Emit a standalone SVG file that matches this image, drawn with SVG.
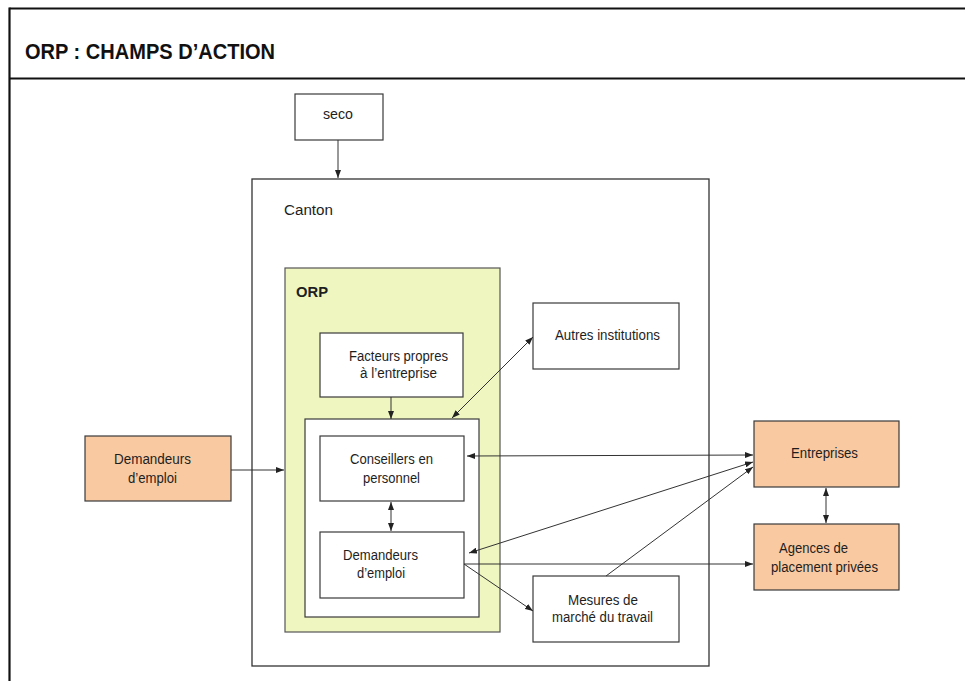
<svg xmlns="http://www.w3.org/2000/svg" width="965" height="681" viewBox="0 0 965 681">
<style>
  .frame { stroke: #111; stroke-width: 2.2; fill: none; }
  .box { fill: #ffffff; stroke: #3a3a3a; stroke-width: 1.2; }
  .orange { fill: #f9c9a1; stroke: #3a3a3a; stroke-width: 1.2; }
  .orp { fill: #eff6c0; stroke: #555; stroke-width: 1.2; }
  .canton { fill: #ffffff; stroke: #333; stroke-width: 1.3; }
  text { font-family: "Liberation Sans", Arial, sans-serif; font-size: 14px; fill: #1e1e1e; }
  .title { font-size: 22px; font-weight: bold; fill: #111; }
  .bold { font-weight: bold; }
  .conn path { stroke: #333; stroke-width: 1; fill: none; }
</style>
<defs>
  <marker id="ah" markerUnits="userSpaceOnUse" markerWidth="8" markerHeight="6" refX="8" refY="3" orient="auto-start-reverse">
    <path d="M0,0 L8,3 L0,6 z" fill="#222"/>
  </marker>
</defs>
<rect width="965" height="681" fill="#ffffff"/>

<g id="frame">
  <line class="frame" x1="9.5" y1="8.5" x2="965" y2="8.5"/>
  <line class="frame" x1="9.5" y1="7.5" x2="9.5" y2="681"/>
  <line class="frame" x1="9.5" y1="78.5" x2="965" y2="78.5"/>
  <text class="title" x="25" y="59" textLength="250" lengthAdjust="spacingAndGlyphs">ORP : CHAMPS D’ACTION</text>
</g>

<g id="canton">
  <rect class="canton" x="252" y="179" width="457" height="487"/>
  <text x="284" y="215" textLength="49" lengthAdjust="spacingAndGlyphs">Canton</text>
</g>

<g id="orp">
  <rect class="orp" x="285" y="268" width="215" height="364"/>
  <text class="bold" x="296" y="297" textLength="32" lengthAdjust="spacingAndGlyphs">ORP</text>
</g>

<g id="seco">
  <rect class="box" x="295" y="94" width="88" height="46"/>
  <text x="323" y="119" textLength="30" lengthAdjust="spacingAndGlyphs">seco</text>
</g>

<g id="facteurs">
  <rect class="box" x="320" y="333" width="143" height="64"/>
  <text x="349" y="361" textLength="99" lengthAdjust="spacingAndGlyphs">Facteurs propres</text>
  <text x="360" y="378" textLength="77" lengthAdjust="spacingAndGlyphs">à l’entreprise</text>
</g>

<g id="inner">
  <rect class="box" x="305" y="419" width="174" height="198"/>
</g>

<g id="conseillers">
  <rect class="box" x="320" y="436" width="144" height="65"/>
  <text x="350" y="464" textLength="83" lengthAdjust="spacingAndGlyphs">Conseillers en</text>
  <text x="363" y="483" textLength="57" lengthAdjust="spacingAndGlyphs">personnel</text>
</g>

<g id="demandeurs-orp">
  <rect class="box" x="320" y="532" width="144" height="66"/>
  <text x="343" y="560" textLength="75" lengthAdjust="spacingAndGlyphs">Demandeurs</text>
  <text x="357" y="578" textLength="48" lengthAdjust="spacingAndGlyphs">d’emploi</text>
</g>

<g id="demandeurs-ext">
  <rect class="orange" x="85" y="436" width="146" height="65"/>
  <text x="114" y="464" textLength="77" lengthAdjust="spacingAndGlyphs">Demandeurs</text>
  <text x="128" y="483" textLength="49" lengthAdjust="spacingAndGlyphs">d’emploi</text>
</g>

<g id="autres">
  <rect class="box" x="533" y="303" width="146" height="66"/>
  <text x="555" y="340" textLength="105" lengthAdjust="spacingAndGlyphs">Autres institutions</text>
</g>

<g id="mesures">
  <rect class="box" x="533" y="576" width="146" height="66"/>
  <text x="568" y="605" textLength="70" lengthAdjust="spacingAndGlyphs">Mesures de</text>
  <text x="552" y="622" textLength="101" lengthAdjust="spacingAndGlyphs">marché du travail</text>
</g>

<g id="entreprises">
  <rect class="orange" x="754" y="421" width="145" height="66"/>
  <text x="791" y="458" textLength="67" lengthAdjust="spacingAndGlyphs">Entreprises</text>
</g>

<g id="agences">
  <rect class="orange" x="754" y="524" width="145" height="66"/>
  <text x="779" y="553" textLength="69" lengthAdjust="spacingAndGlyphs">Agences de</text>
  <text x="771" y="572" textLength="107" lengthAdjust="spacingAndGlyphs">placement privées</text>
</g>

<g id="connectors" class="conn">
  <path d="M338,140 L338,178" marker-end="url(#ah)"/>
  <path d="M231,470 L284,470" marker-end="url(#ah)"/>
  <path d="M391,397 L391,419" marker-end="url(#ah)"/>
  <path d="M533,337 L452,418" marker-start="url(#ah)" marker-end="url(#ah)"/>
  <path d="M467,456 L753,455" marker-start="url(#ah)" marker-end="url(#ah)"/>
  <path d="M469,553 L753,462" marker-start="url(#ah)" marker-end="url(#ah)"/>
  <path d="M606,576 L753,467" marker-end="url(#ah)"/>
  <path d="M464,564 L753,564" marker-end="url(#ah)"/>
  <path d="M464,564 L533,611" marker-end="url(#ah)"/>
  <path d="M826,488 L826,523" marker-start="url(#ah)" marker-end="url(#ah)"/>
  <path d="M391,502 L391,531" marker-start="url(#ah)" marker-end="url(#ah)"/>
</g>
</svg>
